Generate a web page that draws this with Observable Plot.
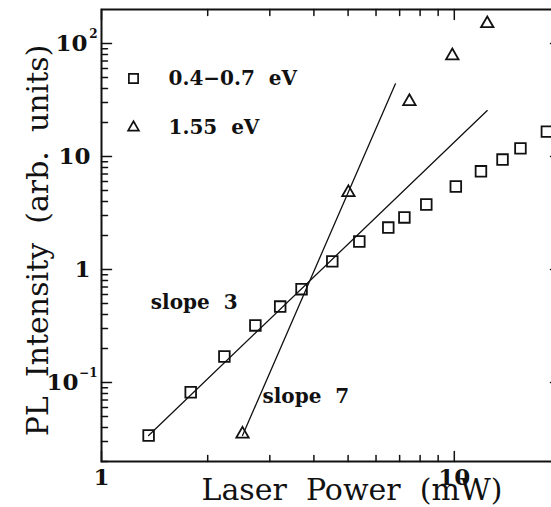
<!DOCTYPE html>
<html><head><meta charset="utf-8">
<script src="https://cdn.jsdelivr.net/npm/d3@7"></script>
<script src="https://cdn.jsdelivr.net/npm/@observablehq/plot@0.6"></script>
<style>
html,body{margin:0;padding:0;background:#fff;overflow:hidden;}
#wrap{width:551px;height:507px;overflow:hidden;}
</style></head><body><div id="wrap"></div>
<script>
// ---- data ----
const squarePower      = [1.36, 1.79, 2.23, 2.73, 3.21, 3.69, 4.51, 5.38, 6.50, 7.22, 8.33, 10.1, 11.9, 13.7, 15.4, 18.3];
const squareIntensity  = [0.034, 0.082, 0.17, 0.32, 0.47, 0.67, 1.18, 1.77, 2.35, 2.89, 3.76, 5.43, 7.4, 9.4, 11.8, 16.6];
const trianglePower     = [2.51, 5.01, 7.46, 9.87, 12.4];
const triangleIntensity = [0.035, 4.8, 30.7, 78, 150];
const slope3Power     = [1.36, 12.4];
const slope3Intensity = [0.034, 25.5];
const slope7Power     = [2.51, 6.81];
const slope7Intensity = [0.034, 44];
const slopeLabels         = ["slope  3", "slope  7"];
const slopeLabelPower     = [1.38, 2.86];
const slopeLabelIntensity = [0.51, 0.075];
const legendLabels  = ["0.4\u22120.7  eV", "1.55  eV"];
const legendSymbols = ["square", "triangle"];
const xMajorTicks = [1, 10];
const xMinorTicks = [2, 3, 4, 5, 6, 7, 8, 9];
const xTickLabels = ["1", "10"];
const yMajorTicks = [0.1, 1, 10, 100];
const yMinorTicks = [0.02,0.03,0.04,0.05,0.06,0.07,0.08,0.09, 0.2,0.3,0.4,0.5,0.6,0.7,0.8,0.9, 2,3,4,5,6,7,8,9, 20,30,40,50,60,70,80,90];
const yTickBase = ["10", "1", "10", "10"];
const yTickExp  = ["\u22121", "", "", "2"];
const xTitle = "Laser  Power  (mW)";
const yTitle = "PL  Intensity  (arb.  units)";

// ---- build ----
const squares   = squarePower.map((p, i) => ({p, v: squareIntensity[i]}));
const triangles = trianglePower.map((p, i) => ({p, v: triangleIntensity[i]}));
const slope3 = slope3Power.map((p, i) => ({p, v: slope3Intensity[i]}));
const slope7 = slope7Power.map((p, i) => ({p, v: slope7Intensity[i]}));
const slopeText = slopeLabels.map((t, i) => ({t, p: slopeLabelPower[i], v: slopeLabelIntensity[i]}));
const yLabels = yMajorTicks.map((v, i) => ({v, base: yTickBase[i], exp: yTickExp[i]}));
const xLabels = xMajorTicks.map((v, i) => ({v, t: xTickLabels[i]}));

const tickShape = {draw(ctx, l) { ctx.moveTo(0, 0); ctx.lineTo(0, -l); }};
const FONT = "DejaVu Serif";
const INK = "#111";
const tickOpts = (len, rot, anchor) => ({length: len, rotate: rot, shape: tickShape, anchor: "start", frameAnchor: anchor, stroke: INK, strokeWidth: 1.5});
const baseDx = (d) => d.exp.length > 1 ? -23 : d.exp.length === 1 ? -14 : -11;

const legendMarks = legendLabels.flatMap((label, i) => [
  Plot.dot([label], {frameAnchor: "top-left", dx: 32, dy: 69 + i * 49, symbol: legendSymbols[i], r: legendSymbols[i] === "square" ? 5.2 : 4, stroke: INK, strokeWidth: 1.7, fill: "none"}),
  Plot.text([label], {frameAnchor: "top-left", dx: 67, dy: 69 + i * 49, textAnchor: "start", lineAnchor: "middle", fontSize: 20, fontWeight: "bold", fill: INK})
]);

const chart = Plot.plot({
  width: 560, height: 507,
  marginLeft: 101, marginRight: 0, marginTop: 9, marginBottom: 46,
  style: {maxWidth: "none", fontFamily: FONT, background: "#fff"},
  x: {type: "log", domain: [1, 20], axis: null},
  y: {type: "log", domain: [0.02, 200], axis: null},
  marks: [
    Plot.frame({stroke: INK, strokeWidth: 2}),
    Plot.vectorY(yMajorTicks, tickOpts(10, 90, "left")),
    Plot.vectorY(yMinorTicks, tickOpts(6, 90, "left")),
    Plot.vectorY(yMajorTicks, tickOpts(10, 270, "right")),
    Plot.vectorY(yMinorTicks, tickOpts(6, 270, "right")),
    Plot.vectorX(xMajorTicks, tickOpts(10, 0, "bottom")),
    Plot.vectorX(xMinorTicks, tickOpts(6, 0, "bottom")),
    Plot.vectorX(xMajorTicks, tickOpts(10, 180, "top")),
    Plot.vectorX(xMinorTicks, tickOpts(6, 180, "top")),
    Plot.text(xLabels, {x: "v", text: "t", frameAnchor: "bottom", textAnchor: "middle", lineAnchor: "middle", dy: 16, fontSize: 23, fontWeight: "bold", fill: INK}),
    ...yLabels.map(d => Plot.text([d], {y: "v", text: "base", frameAnchor: "left", textAnchor: "end", lineAnchor: "middle", dx: baseDx(d), fontSize: 23, fontWeight: "bold", fill: INK})),
    Plot.text(yLabels, {y: "v", text: "exp", frameAnchor: "left", textAnchor: "end", lineAnchor: "middle", dx: -4, dy: -9, fontSize: 12, fontWeight: "bold", fill: INK}),
    Plot.text([xTitle], {frameAnchor: "bottom", textAnchor: "middle", lineAnchor: "middle", dx: 21, dy: 29, fontSize: 30, fill: INK}),
    Plot.text([yTitle], {frameAnchor: "left", textAnchor: "middle", lineAnchor: "middle", rotate: -90, dx: -63, dy: 5, fontSize: 30, fill: INK}),
    Plot.line(slope3, {x: "p", y: "v", stroke: INK, strokeWidth: 1.3}),
    Plot.line(slope7, {x: "p", y: "v", stroke: INK, strokeWidth: 1.3}),
    Plot.dot(squares, {x: "p", y: "v", symbol: "square", r: 6, stroke: INK, strokeWidth: 1.8, fill: "none"}),
    Plot.dot(triangles, {x: "p", y: "v", symbol: "triangle", r: 4.6, stroke: INK, strokeWidth: 1.8, fill: "none"}),
    Plot.text(slopeText, {x: "p", y: "v", text: "t", textAnchor: "start", lineAnchor: "middle", fontSize: 20, fontWeight: "bold", fill: INK}),
    ...legendMarks
  ]
});
document.getElementById("wrap").appendChild(chart);
</script></body></html>
